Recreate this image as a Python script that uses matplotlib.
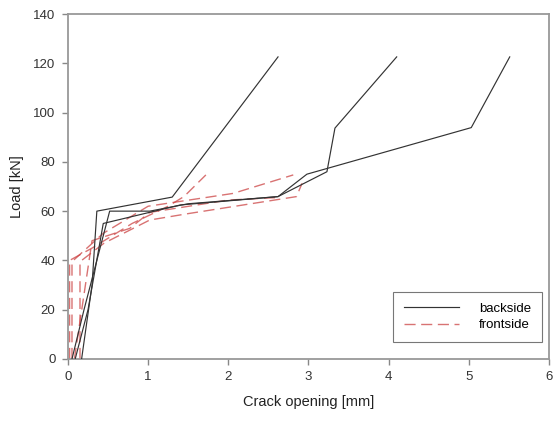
import matplotlib
matplotlib.use("Agg")
import matplotlib.pyplot as plt

# backside curves (crack opening mm, load kN)
back_a_x = [0.17, 0.30, 0.33, 0.36, 1.30, 2.62]
back_a_y = [0, 30, 45, 60, 65.7, 122.6]
back_b_x = [0.09, 0.25, 0.44, 1.40, 2.62, 3.23, 3.33, 4.10]
back_b_y = [0, 20, 55, 62.5, 65.9, 76, 93.7, 122.6]
back_c_x = [0.05, 0.20, 0.52, 1.02, 1.50, 2.62, 2.98, 5.03, 5.51]
back_c_y = [0, 20, 60, 60, 63, 65.9, 75, 93.9, 122.6]

# frontside curves
front_a_x = [0.02, 0.02, 0.30, 0.80, 1.25, 1.45, 1.72]
front_a_y = [0, 40, 45, 55, 62, 66, 74.7]
front_b_x = [0.05, 0.05, 0.44, 1.00, 2.06, 2.81]
front_b_y = [0, 39.5, 51, 62, 67.2, 74.7]
front_c_x = [0.15, 0.15, 0.45, 1.02, 1.50, 2.85, 2.92]
front_c_y = [0, 39.5, 47, 56.4, 59, 65.9, 71.3]
front_d_x = [0.08, 0.30, 0.77, 1.02, 2.00, 2.60]
front_d_y = [0, 48, 53, 59.5, 64.5, 65.5]

x_ticks = [0, 1, 2, 3, 4, 5, 6]
y_ticks = [0, 20, 40, 60, 80, 100, 120, 140]

plt.rcParams['font.family'] = ['Liberation Sans', 'DejaVu Sans']

fig = plt.figure(figsize=(5.54, 4.21), dpi=100)
ax = fig.add_axes([0.1227, 0.1473, 0.8683, 0.8194])

black = '#333333'
red = '#cc4444'
for i, (xs, ys) in enumerate([(back_a_x, back_a_y), (back_b_x, back_b_y), (back_c_x, back_c_y)]):
    ax.plot(xs, ys, color=black, lw=0.85, label='backside' if i == 0 else None, zorder=3)
for i, (xs, ys) in enumerate([(front_a_x, front_a_y), (front_b_x, front_b_y),
                              (front_c_x, front_c_y), (front_d_x, front_d_y)]):
    ax.plot(xs, ys, color=red, lw=1.0, alpha=0.75, dashes=(8, 4),
            label='frontside' if i == 0 else None, zorder=2)

ax.set_xlim(0, 6)
ax.set_ylim(0, 140)
ax.set_xticks(x_ticks)
ax.set_yticks(y_ticks)
for s in ax.spines.values():
    s.set_color('#999999')
    s.set_linewidth(1.3)
ax.tick_params(direction='out', length=4, width=1, color='#888888',
               labelsize=9.5, labelcolor='#333333', pad=5)
ax.set_xlabel('Crack opening [mm]', fontsize=10.5, color='#222222', labelpad=8)
ax.set_ylabel('Load [kN]', fontsize=10.5, color='#222222', labelpad=7)

leg = ax.legend(loc='lower right', bbox_to_anchor=(0.9985, 0.03), fontsize=9.5,
                frameon=True, fancybox=False, handlelength=4.2, borderpad=0.8,
                labelspacing=0.35, handletextpad=1.5)
leg.get_frame().set_edgecolor('#555555')
leg.get_frame().set_linewidth(0.8)

fig.savefig('out.png', dpi=100)
